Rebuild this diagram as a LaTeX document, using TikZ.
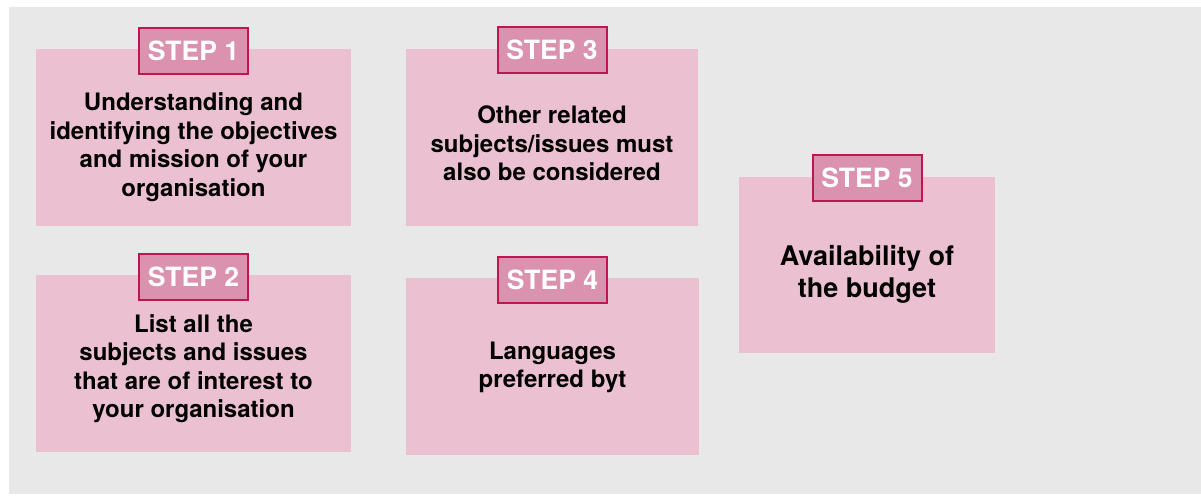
\documentclass[tikz,border=0pt]{standalone}
\usepackage{fontspec}
\setmainfont{TeX Gyre Heros}
\definecolor{bggray}{HTML}{E8E8E8}
\definecolor{boxpink}{HTML}{EBC0D0}
\definecolor{tagpink}{HTML}{DA92AF}
\definecolor{tagred}{HTML}{BE1650}
\begin{document}
\begin{tikzpicture}
[x=1pt,y=-1pt,
stepbox/.style={fill=boxpink,inner sep=0pt},
steptag/.style={draw=tagred,line width=2pt,fill=tagpink,minimum width=109pt,minimum height=46pt,inner sep=0pt,text=white,font=\fontsize{26.5}{30}\selectfont\bfseries},
steptext/.style={align=center,font=\fontsize{24}{28.5}\selectfont\bfseries},]

%Frame
\useasboundingbox (0,0) rectangle (1201,495);
\fill[bggray] (9,7) rectangle (1201,494);

%Boxes
\node (box1) at (193.5,137.5)[stepbox,minimum width=315pt,minimum height=177pt] {};
\node (box2) at (193.5,363.5)[stepbox,minimum width=315pt,minimum height=177pt] {};
\node (box3) at (552,137.5)[stepbox,minimum width=292pt,minimum height=177pt] {};
\node (box4) at (552.5,366.5)[stepbox,minimum width=293pt,minimum height=177pt] {};
\node (box5) at (867,265)[stepbox,minimum width=256pt,minimum height=176pt] {};

%Tags
\node (tag1) at ([yshift=-2pt]box1.north)[steptag] {STEP 1};
\node (tag2) at ([yshift=-2pt]box2.north)[steptag] {STEP 2};
\node (tag3) at ([yshift=-1.5pt]box3.north)[steptag] {STEP 3};
\node (tag4) at ([yshift=-2.5pt]box4.north)[steptag] {STEP 4};
\node (tag5) at ([yshift=-1.5pt]box5.north)[steptag] {STEP 5};

%Texts
\node (txt1) at ([yshift=-9.5pt]box1.center)[steptext] {Understanding and\\identifying the objectives\\and mission of your\\organisation};
\node (txt2) at ([yshift=-5pt]box2.center)[steptext] {List all the\\subjects and issues\\that are of interest to\\your organisation};
\node (txt3) at ([yshift=-6pt]box3.center)[steptext] {Other related\\subjects/issues must\\also be considered};
\node (txt4) at ([yshift=-1pt]box4.center)[steptext] {Languages\\preferred byt};
\node (txt5) at ([yshift=-9pt]box5.center)[steptext,font=\fontsize{27}{32}\selectfont\bfseries] {Availability of\\the budget};
\end{tikzpicture}
\end{document}
